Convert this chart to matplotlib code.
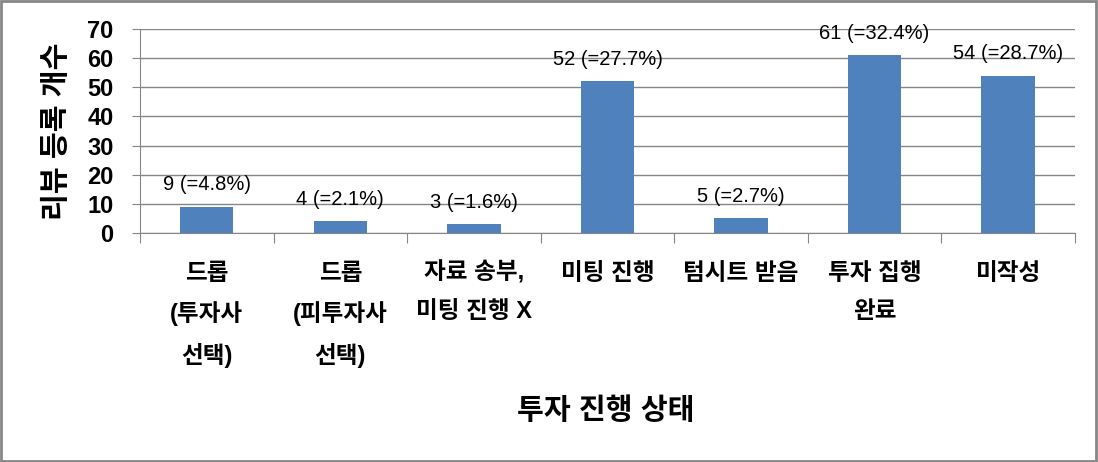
import matplotlib.pyplot as plt
import numpy as np

plt.rcParams['font.family'] = ['Liberation Sans', 'Noto Sans CJK KR', 'DejaVu Sans']

categories = ["드롭\n(투자사\n선택)", "드롭\n(피투자사\n선택)", "자료 송부,\n미팅 진행 X",
              "미팅 진행", "텀시트 받음", "투자 집행\n완료", "미작성"]
counts = [9, 4, 3, 52, 5, 61, 54]
labels = ["9 (=4.8%)", "4 (=2.1%)", "3 (=1.6%)", "52 (=27.7%)",
          "5 (=2.7%)", "61 (=32.4%)", "54 (=28.7%)"]

fig = plt.figure(figsize=(10.98, 4.62), dpi=100)
ax = fig.add_axes([0.1275, 0.4957, 0.8515, 0.4416])

x = np.arange(len(categories))
ax.bar(x, counts, width=0.4, color="#4F81BD", zorder=3)

for xi, c, lab in zip(x, counts, labels):
    ax.annotate(lab, (xi, c), xytext=(0, 9), textcoords="offset points",
                ha="center", va="bottom", fontsize=14.5, fontweight="medium")

ax.set_xlim(-0.5, len(categories) - 0.5)
ax.set_ylim(0, 70)
ax.set_yticks(range(0, 71, 10))
ax.yaxis.grid(True, color="#868686", linewidth=1, zorder=0)
ax.tick_params(axis="y", length=6, color="#868686", labelsize=17, pad=13)
for t in ax.get_yticklabels():
    t.set_fontweight("bold")

# category ticks between bars
ax.set_xticks(np.arange(-0.5, len(categories), 1.0))
ax.set_xticklabels([])
ax.tick_params(axis="x", length=7, color="#868686")
for xi, cat in zip(x, categories):
    ax.text(xi, -0.14, cat, transform=ax.get_xaxis_transform(), ha="center", va="top",
            fontsize=17, fontweight="bold", linespacing=1.85)

for s in ["top", "right"]:
    ax.spines[s].set_visible(False)
ax.spines["left"].set_color("#868686")
ax.spines["bottom"].set_color("#868686")

ax.set_ylabel("리뷰 등록 개수", fontsize=21, fontweight="bold", labelpad=12)
fig.text(0.552, 0.11, "투자 진행 상태", ha="center", va="center", fontsize=21, fontweight="bold")

fig.patches.append(plt.Rectangle((0.001, 0.002), 0.997, 0.995, transform=fig.transFigure,
                                 fill=False, edgecolor="#868686", linewidth=2))

fig.savefig("out.png", dpi=100)
